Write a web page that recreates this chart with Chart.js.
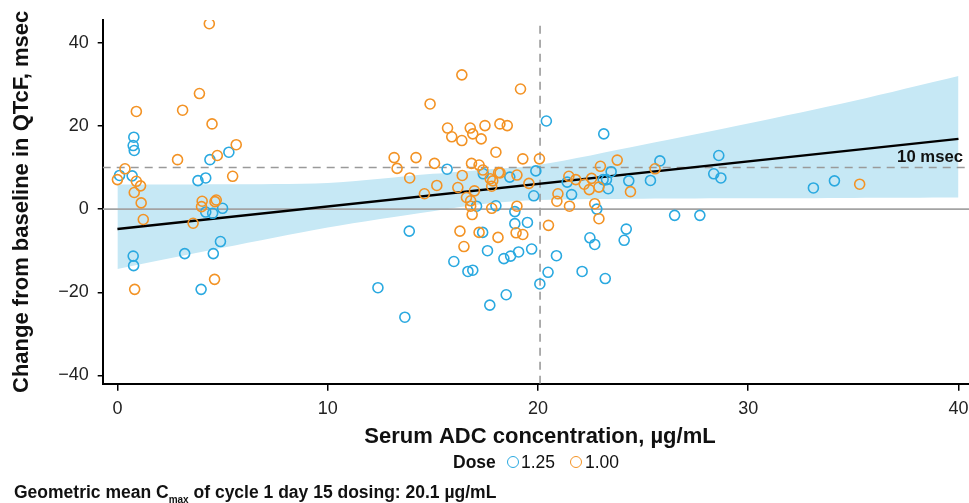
<!DOCTYPE html>
<html><head><meta charset="utf-8">
<script src="https://cdn.jsdelivr.net/npm/chart.js@4.4.1/dist/chart.umd.min.js"></script>
<style>
body{margin:0;background:#fff;font-family:"Liberation Sans",Arial,sans-serif;}
#wrap{position:relative;width:969px;height:503px;overflow:hidden;}
#c{position:absolute;left:0;top:0;}
.lg{position:absolute;top:451px;font-size:17.5px;line-height:22px;color:#111;white-space:nowrap;}
.dot{position:absolute;top:456px;width:10px;height:10px;border-radius:50%;border:1.6px solid;box-sizing:content-box;}
#foot{position:absolute;left:14px;top:482px;font-size:17.5px;font-weight:bold;color:#111;white-space:nowrap;line-height:20px;}
#foot sub{font-size:10px;vertical-align:-5px;}
</style></head>
<body><div id="wrap">
<canvas id="c" width="969" height="503"></canvas>
<span class="lg" style="left:453px;font-weight:bold">Dose</span>
<span class="dot" style="left:507px;border-color:#2aa9e0"></span>
<span class="lg" style="left:521px">1.25</span>
<span class="dot" style="left:570px;border-color:#f39325"></span>
<span class="lg" style="left:585px">1.00</span>
<div id="foot">Geometric mean C<sub>max</sub> of cycle 1 day 15 dosing: 20.1 µg/mL</div>
</div>
<script>
// ---- data ----
const xTicks = [0, 10, 20, 30, 40];
const yTicks = [-40, -20, 0, 20, 40];
const doseLabels = ["1.25", "1.00"];
const dose125 = [
 [0.1,8.1],[0.7,8.0],[0.78,17.3],[0.75,15.3],[0.8,14.1],[4.4,11.9],[5.3,13.7],[3.83,6.85],[4.2,7.5],
 [4.2,-0.7],[4.53,-1.0],[5.0,0.2],[0.75,-11.3],[0.77,-13.6],[3.2,-10.7],[4.56,-10.7],[4.9,-7.8],[3.98,-19.3],
 [20.4,21.2],[15.68,9.6],[17.4,8.5],[18.66,7.7],[19.9,9.2],[17.08,0.7],[18.0,0.8],[19.8,3.2],[18.9,-0.6],
 [18.9,-3.5],[19.5,-3.2],[13.88,-5.3],[17.37,-5.6],[17.6,-10.0],[16.0,-12.6],[16.67,-15.0],[16.9,-14.7],
 [18.38,-11.9],[18.7,-11.3],[19.08,-10.3],[19.7,-9.6],[20.88,-11.2],[20.48,-15.2],[20.09,-18.0],[18.49,-20.6],
 [17.71,-23.1],[12.39,-18.9],[13.67,-26.0],
 [23.48,9.0],[21.39,6.5],[23.1,7.1],[23.26,7.1],[23.34,4.9],[24.32,6.8],[25.35,6.9],[21.6,3.5],[22.8,0.0],
 [24.2,-4.8],[22.47,-6.9],[24.1,-7.5],[23.13,18.1],[25.8,11.6],[28.6,12.9],[28.36,8.5],[28.7,7.5],
 [26.5,-1.5],[27.7,-1.5],[22.7,-8.5],[22.1,-15.0],[23.2,-16.7],[33.1,5.1],[34.1,6.8]
];
const dose100 = [
 [0.0,7.1],[0.36,9.7],[0.9,6.7],[1.1,5.6],[0.8,4.0],[0.9,23.5],[2.86,11.9],[3.1,23.8],[3.9,27.8],[4.37,44.6],
 [4.5,20.5],[4.75,12.9],[5.65,15.5],[5.48,7.9],[1.13,1.5],[1.23,-2.5],[4.03,1.9],[4.0,0.6],[4.64,1.8],[4.7,2.2],
 [3.6,-3.4],[4.62,-16.9],[0.82,-19.3],
 [16.38,32.3],[19.17,28.9],[14.87,25.3],[15.7,19.5],[15.9,17.4],[16.38,16.5],[16.78,19.5],[16.9,18.1],[17.3,16.9],
 [17.48,20.1],[18.19,20.5],[18.54,20.1],[18.0,13.7],[13.16,12.4],[14.2,12.4],[13.3,9.8],[15.08,11.0],[16.84,11.0],
 [17.2,10.6],[17.38,9.4],[16.4,8.1],[13.9,7.5],[17.73,7.3],[17.85,6.8],[17.8,5.5],[18.13,8.8],[18.2,8.7],[19.0,8.2],
 [19.28,12.1],[20.07,12.1],[19.57,6.2],[15.19,5.7],[16.19,5.2],[16.98,4.4],[14.6,3.7],[16.6,2.8],[16.8,2.0],
 [16.8,0.7],[17.8,0.2],[19.0,0.7],[16.87,-1.3],[20.5,-3.9],[20.95,3.7],[20.9,1.9],[16.29,-5.3],[17.2,-5.6],
 [18.1,-6.8],[18.96,-5.7],[19.28,-6.1],[16.48,-9.0],
 [22.97,10.3],[23.77,11.8],[21.47,7.9],[21.8,7.1],[22.2,6.0],[22.55,7.4],[22.44,4.7],[22.9,5.3],[24.4,4.2],
 [21.5,0.7],[22.7,1.3],[22.9,-2.3],[25.57,9.7],[35.3,6.0]
];
const bandX     = [0, 5, 10, 15, 17.5, 20, 25, 30, 35, 40];
const bandUpper = [5.9, 6.0, 6.3, 8.5, 9.5, 10.6, 15.5, 20.6, 26.0, 32.0];
const bandLower = [-14.4, -9.3, -4.4, -0.5, 1.3, 2.2, 2.5, 2.6, 2.7, 2.8];
const fitX = [0, 40];
const fitY = [-4.8, 16.9];
const xRange = [-0.7, 40.5];
const yRange = [-42, 45.5];
const thresholdY = 10;
const cmaxX = 20.1;

const toPts = a => a.map(p => ({x: p[0], y: p[1]}));
const zip = (xs, ys) => xs.map((x, i) => ({x, y: ys[i]}));
const BLUE = '#2aa9e0', ORANGE = '#f39325';

const fontFam = '"Liberation Sans", Arial, sans-serif';

const textPlugin = {
  id: 'texts',
  afterDraw(chart) {
    const ctx = chart.ctx, ys = chart.scales.y;
    ctx.save();
    ctx.fillStyle = '#111';
    ctx.font = 'bold 16.7px ' + fontFam;
    ctx.textAlign = 'right'; ctx.textBaseline = 'middle';
    ctx.fillText('10 msec', 963, ys.getPixelForValue(thresholdY) - 10);
    ctx.font = 'bold 22px ' + fontFam;
    ctx.textAlign = 'center';
    ctx.fillText('Serum ADC concentration, µg/mL', 540, 437);
    ctx.translate(22, (chart.chartArea.top + chart.chartArea.bottom) / 2);
    ctx.rotate(-Math.PI / 2);
    ctx.fillText('Change from baseline in QTcF, msec', 0, 0);
    ctx.restore();
  }
};

const minus = v => String(v).replace('-', '\u2212');

new Chart(document.getElementById('c'), {
  type: 'scatter',
  data: {
    datasets: [
      {label: 'lower', type: 'line', data: zip(bandX, bandLower), borderWidth: 0, pointRadius: 0, fill: false, order: 10, tension: 0.3},
      {label: 'upper', type: 'line', data: zip(bandX, bandUpper), borderWidth: 0, pointRadius: 0, fill: '-1', backgroundColor: '#c6e8f5', order: 9, tension: 0.3},
      {label: 'zero', type: 'line', data: zip(xRange, [0, 0]), borderColor: '#a3a3a3', borderWidth: 1.6, pointRadius: 0, order: 8},
      {label: 'thr', type: 'line', data: zip(xRange, [thresholdY, thresholdY]), borderColor: '#9a9a9a', borderWidth: 1.6, borderDash: [8, 6], pointRadius: 0, order: 8},
      {label: 'cmax', type: 'line', data: zip([cmaxX, cmaxX], yRange), borderColor: '#9a9a9a', borderWidth: 1.6, borderDash: [8, 6], pointRadius: 0, order: 8},
      {label: 'fit', type: 'line', data: zip(fitX, fitY), borderColor: '#000', borderWidth: 2.5, pointRadius: 0, order: 7},
      {label: doseLabels[0], data: toPts(dose125), borderColor: BLUE, backgroundColor: 'rgba(0,0,0,0)', pointRadius: 5, borderWidth: 1.6, order: 2},
      {label: doseLabels[1], data: toPts(dose100), borderColor: ORANGE, backgroundColor: 'rgba(0,0,0,0)', pointRadius: 5, borderWidth: 1.6, order: 1}
    ]
  },
  options: {
    responsive: false, animation: false, devicePixelRatio: 1,
    layout: {autoPadding: false, padding: {top: 20, left: 0, right: 0, bottom: 0}},
    plugins: {legend: {display: false}, tooltip: {enabled: false}},
    scales: {
      x: {
        type: 'linear', min: xRange[0], max: xRange[1],
        afterBuildTicks: s => { s.ticks = xTicks.map(v => ({value: v})); },
        afterFit: s => { s.height = 503 - 383.7; s.paddingLeft = 0; s.paddingRight = 0; },
        ticks: {font: {size: 18, family: fontFam}, color: '#222', padding: 8, callback: v => minus(v)},
        grid: {display: true, drawOnChartArea: false, drawTicks: true, tickLength: 7, color: '#000', lineWidth: 1.5},
        border: {display: true, color: '#000', width: 2}
      },
      y: {
        type: 'linear', min: yRange[0], max: yRange[1],
        afterBuildTicks: s => { s.ticks = yTicks.map(v => ({value: v})); },
        afterFit: s => { s.width = 102.7; s.paddingTop = 0; s.paddingBottom = 0; },
        ticks: {font: {size: 18, family: fontFam}, color: '#222', padding: 9, callback: v => minus(v)},
        grid: {display: true, drawOnChartArea: false, drawTicks: true, tickLength: 5, color: '#000', lineWidth: 1.5},
        border: {display: true, color: '#000', width: 2}
      }
    }
  },
  plugins: [textPlugin]
});
</script>
</body></html>
